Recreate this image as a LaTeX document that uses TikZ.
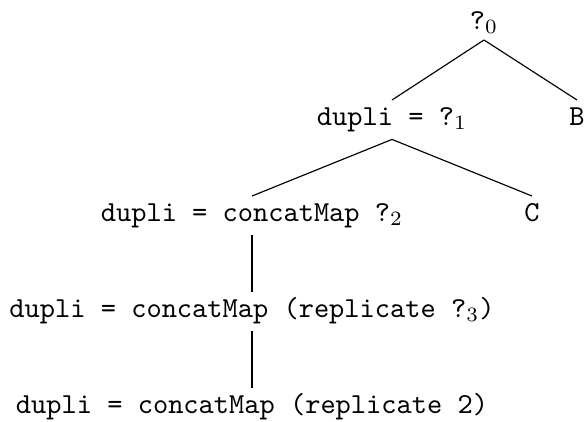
\documentclass[tikz,border=0pt]{standalone}
\begin{document}
\begin{tikzpicture}[x=0.3448pt,y=-0.3448pt,
  tnode/.style={font=\ttfamily, inner sep=2.43pt, text height=6.11pt, text depth=2.22pt},
  edge/.style={line width=0.4pt}]
\useasboundingbox (0,0) rectangle (584,421);
\node[tnode, text depth=1.1pt, anchor=south] (n0) at (484,40) {?$_0$};
\node[tnode, anchor=north] (n1) at (392,100) {dupli = ?$_1$};
\node[tnode, anchor=north] (nB) at (577,100) {B};
\node[tnode, anchor=north] (n2) at (252,196) {dupli = concatMap ?$_2$};
\node[tnode, anchor=north] (nC) at (532,196) {C};
\node[tnode, anchor=north] (n3) at (252,292) {dupli = concatMap (replicate ?$_3$)};
\node[tnode, anchor=north] (n4) at (252,388) {dupli = concatMap (replicate 2)};
\draw[edge] (n0.south) -- (n1.north);
\draw[edge] (n0.south) -- (nB.north);
\draw[edge] (n1.south) -- (n2.north);
\draw[edge] (n1.south) -- (nC.north);
\draw[edge] (n2.south) -- (n3.north);
\draw[edge] (n3.south) -- (n4.north);
\end{tikzpicture}
\end{document}
